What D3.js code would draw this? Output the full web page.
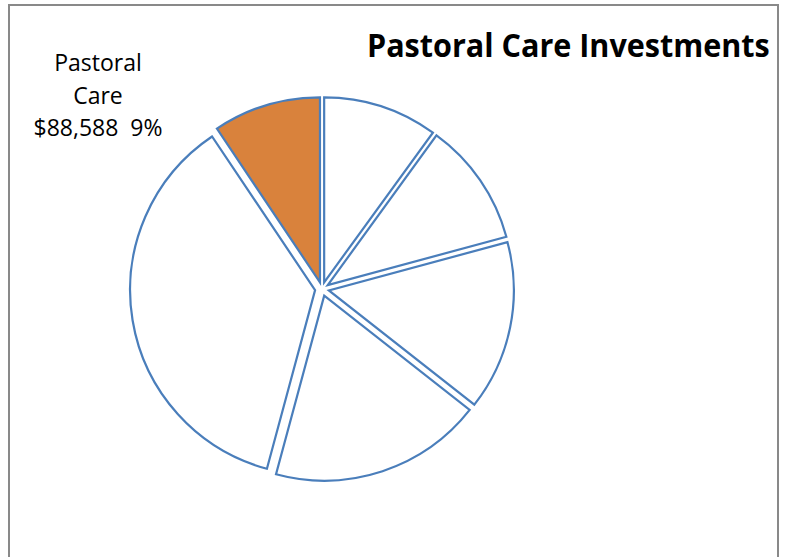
<!DOCTYPE html>
<html>
<head>
<meta charset="utf-8">
<script src="https://cdn.jsdelivr.net/npm/d3@7"></script>
<style>
  html, body { margin: 0; padding: 0; background: #fff; }
  svg { display: block; }
</style>
</head>
<body>
<svg id="chart" width="786" height="557"></svg>
<script>
// ---- data ----
const categories = ["Category A", "Category B", "Category C", "Category D", "Category E", "Pastoral Care"];
const values = [94200, 101800, 139400, 175200, 343000, 88588];
const highlighted = ["Pastoral Care"];
const titleText = "Pastoral Care Investments";
const labelLines = ["Pastoral", "Care", "$88,588  9%"];

// ---- drawing ----
const svg = d3.select("#chart");
const W = 786, H = 557;

svg.append("rect").attr("width", W).attr("height", H).attr("fill", "#fff");
// chart frame (bottom runs off the picture)
svg.append("path")
  .attr("d", "M9,570 L9,5 L778,5 L778,570")
  .attr("fill", "none").attr("stroke", "#898989").attr("stroke-width", 2);

const cx = 322, cy = 289, R = 185, explode = 7;
const data = categories.map((c, i) => ({ category: c, value: values[i] }));
const pie = d3.pie().value(d => d.value).sort(null).startAngle(0).endAngle(2 * Math.PI);
const arc = d3.arc().innerRadius(0).outerRadius(R);

const g = svg.append("g").attr("transform", `translate(${cx},${cy})`);
g.selectAll("path.slice")
  .data(pie(data))
  .join("path")
  .attr("class", "slice")
  .attr("transform", d => {
    const a = (d.startAngle + d.endAngle) / 2;
    return `translate(${Math.sin(a) * explode},${-Math.cos(a) * explode})`;
  })
  .attr("d", arc)
  .attr("fill", d => highlighted.includes(d.data.category) ? "#D9823C" : "#ffffff")
  .attr("stroke", "#4A7EBB")
  .attr("stroke-width", 2.2)
  .attr("stroke-linejoin", "miter");

// data label for Pastoral Care
const lab = svg.append("text")
  .attr("font-family", "'Open Sans', sans-serif")
  .attr("font-size", 23)
  .attr("fill", "#000")
  .attr("text-anchor", "middle")
  .style("white-space", "pre");
const baselines = [71, 103.5, 136];
labelLines.forEach((t, i) => {
  lab.append("tspan").attr("x", 98).attr("y", baselines[i]).text(t);
});

// title: tall bold face, narrowed to the width it takes in the reference
const title = svg.append("text")
  .attr("font-family", "'Open Sans', sans-serif")
  .attr("font-weight", "bold")
  .attr("font-size", 33)
  .attr("fill", "#000")
  .attr("x", 0).attr("y", 0)
  .text(titleText);
const natural = title.node().getComputedTextLength();
const sx = 403 / natural;
title.attr("transform", `translate(367,57) scale(${sx},1)`);
</script>
</body>
</html>
